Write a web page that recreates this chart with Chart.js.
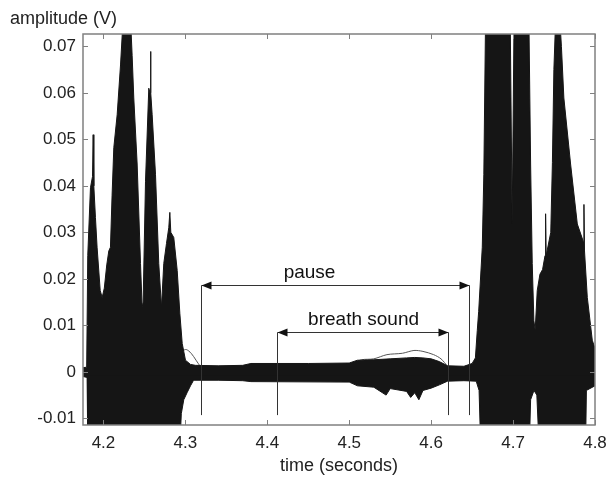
<!DOCTYPE html>
<html>
<head>
<meta charset="utf-8">
<script src="https://cdn.jsdelivr.net/npm/chart.js@4.4.1/dist/chart.umd.min.js"></script>
<style>
  body { margin: 0; background: #fff; }
  canvas { display: block; }
</style>
</head>
<body>
<canvas id="waveChart" width="606" height="477"></canvas>
<script>
// waveform envelope (time in s, amplitude in V)
const upperTimes = [4.175, 4.1795, 4.1808, 4.1841, 4.1866, 4.1874, 4.1882, 4.1902, 4.1922, 4.196, 4.1984, 4.201, 4.204, 4.2065, 4.2085, 4.2105, 4.2126, 4.2167, 4.2208, 4.224, 4.233, 4.235, 4.237, 4.2411, 4.2452, 4.2472, 4.2484, 4.2513, 4.2553, 4.2568, 4.2574, 4.258, 4.2594, 4.2635, 4.2675, 4.2708, 4.2736, 4.2769, 4.2797, 4.281, 4.2822, 4.2858, 4.29, 4.2932, 4.2961, 4.3001, 4.3062, 4.3123, 4.34, 4.37, 4.38, 4.45, 4.5, 4.51, 4.53, 4.55, 4.57, 4.58, 4.59, 4.6, 4.61, 4.62, 4.64, 4.65, 4.654, 4.6563, 4.658, 4.6624, 4.6643, 4.6664, 4.6965, 4.6989, 4.7012, 4.7193, 4.7214, 4.7234, 4.7254, 4.727, 4.7295, 4.7328, 4.736, 4.739, 4.7397, 4.7404, 4.746, 4.748, 4.7498, 4.752, 4.757, 4.759, 4.762, 4.7702, 4.7784, 4.7858, 4.7865, 4.7872, 4.7906, 4.7967, 4.8];
const upperValues = [0.0009, 0.001, 0.025, 0.0396, 0.042, 0.051, 0.04, 0.0332, 0.0268, 0.0175, 0.016, 0.018, 0.023, 0.026, 0.0268, 0.038, 0.0482, 0.0553, 0.066, 0.076, 0.076, 0.068, 0.0589, 0.0447, 0.0233, 0.0139, 0.015, 0.041, 0.061, 0.06, 0.0689, 0.06, 0.0554, 0.0425, 0.0233, 0.0139, 0.0233, 0.0276, 0.031, 0.0343, 0.03, 0.0289, 0.0218, 0.0126, 0.0061, 0.0025, 0.0016, 0.0014, 0.0013, 0.0014, 0.0018, 0.0018, 0.0019, 0.0025, 0.0026, 0.0028, 0.003, 0.0031, 0.003, 0.0028, 0.0022, 0.0013, 0.0012, 0.0018, 0.003, 0.0089, 0.013, 0.0268, 0.0425, 0.076, 0.076, 0.0318, 0.076, 0.076, 0.0447, 0.0233, 0.011, 0.009, 0.0175, 0.021, 0.022, 0.025, 0.034, 0.025, 0.03, 0.045, 0.065, 0.076, 0.076, 0.07, 0.0589, 0.0447, 0.0318, 0.028, 0.036, 0.026, 0.016, 0.0068, 0.005];

const lowerTimes = [4.175, 4.18, 4.1808, 4.2935, 4.295, 4.298, 4.302, 4.3062, 4.31, 4.34, 4.37, 4.38, 4.5, 4.51, 4.53, 4.545, 4.55, 4.57, 4.575, 4.58, 4.585, 4.59, 4.6, 4.61, 4.62, 4.64, 4.655, 4.6585, 4.6603, 4.72, 4.7214, 4.7255, 4.729, 4.7315, 4.7886, 4.7895, 4.8];
const lowerValues = [-0.001, -0.0012, -0.015, -0.015, -0.009, -0.006, -0.0045, -0.003, -0.0018, -0.0018, -0.0019, -0.0021, -0.0022, -0.003, -0.0033, -0.005, -0.0036, -0.0042, -0.0055, -0.0045, -0.006, -0.004, -0.0035, -0.0028, -0.002, -0.0019, -0.002, -0.004, -0.015, -0.015, -0.006, -0.004, -0.005, -0.015, -0.015, -0.004, -0.003];

// thin grey traces showing above the dense part
const loopTimes = [4.296, 4.301, 4.307, 4.313, 4.318];
const loopValues = [0.0045, 0.0048, 0.004, 0.0025, 0.0012];
const bumpTimes = [4.505, 4.515, 4.53, 4.546, 4.565, 4.579, 4.59, 4.603, 4.612, 4.62];
const bumpValues = [0.0018, 0.0026, 0.0028, 0.0037, 0.004, 0.0046, 0.0044, 0.0037, 0.0028, 0.0012];

// axes
const xTickValues = [4.2, 4.3, 4.4, 4.5, 4.6, 4.7, 4.8];
const yTickValues = [-0.01, 0, 0.01, 0.02, 0.03, 0.04, 0.05, 0.06, 0.07];

// annotations: [start, end] of each span, arrow level, label position
const pauseSpan = [4.319, 4.646];
const breathSpan = [4.4116, 4.6209];
const arrowLevels = [0.0186, 0.0086];
const markerBottom = -0.0093;
const spanLabels = ['pause', 'breath sound'];
const labelTimes = [4.4515, 4.5175];
const labelValues = [0.0213, 0.0113];

const toPoints = (ts, vs) => ts.map((t, i) => ({ x: t, y: vs[i] }));

const FONT = "'Liberation Sans', Arial, sans-serif";
const WAVE = '#151515';

const frameAndNotes = {
    id: 'frameAndNotes',
    afterDatasetsDraw(chart) {
        const ctx = chart.ctx;
        const a = chart.chartArea;
        const xs = chart.scales.x, ys = chart.scales.y;
        ctx.save();

        // span markers
        ctx.strokeStyle = '#333';
        ctx.fillStyle = '#111';
        ctx.lineWidth = 1;
        [pauseSpan, breathSpan].forEach((span, k) => {
            const yA = Math.round(ys.getPixelForValue(arrowLevels[k])) + 0.5;
            const yB = ys.getPixelForValue(markerBottom);
            const x1 = Math.round(xs.getPixelForValue(span[0])) + 0.5;
            const x2 = Math.round(xs.getPixelForValue(span[1])) + 0.5;
            ctx.beginPath();
            ctx.moveTo(x1, yA); ctx.lineTo(x1, yB);
            ctx.moveTo(x2, yA); ctx.lineTo(x2, yB);
            ctx.moveTo(x1, yA); ctx.lineTo(x2, yA);
            ctx.stroke();
            // arrow heads
            ctx.beginPath();
            ctx.moveTo(x1, yA); ctx.lineTo(x1 + 10, yA - 4); ctx.lineTo(x1 + 10, yA + 4); ctx.closePath();
            ctx.moveTo(x2, yA); ctx.lineTo(x2 - 10, yA - 4); ctx.lineTo(x2 - 10, yA + 4); ctx.closePath();
            ctx.fill();

            ctx.font = '19px ' + FONT;
            ctx.textAlign = 'center';
            ctx.textBaseline = 'middle';
            ctx.fillText(spanLabels[k], xs.getPixelForValue(labelTimes[k]), ys.getPixelForValue(labelValues[k]));
        });

        // box with inward ticks on every side
        ctx.strokeStyle = '#808080';
        ctx.lineWidth = 1.5;
        ctx.strokeRect(a.left, a.top, a.right - a.left, a.bottom - a.top);
        ctx.lineWidth = 1;
        ctx.beginPath();
        xTickValues.forEach(v => {
            const px = Math.round(xs.getPixelForValue(v)) + 0.5;
            ctx.moveTo(px, a.bottom); ctx.lineTo(px, a.bottom - 5);
            ctx.moveTo(px, a.top); ctx.lineTo(px, a.top + 5);
        });
        yTickValues.forEach(v => {
            const py = Math.round(ys.getPixelForValue(v)) + 0.5;
            ctx.moveTo(a.left, py); ctx.lineTo(a.left + 5, py);
            ctx.moveTo(a.right, py); ctx.lineTo(a.right - 5, py);
        });
        ctx.stroke();

        // y axis title sits above the axis
        ctx.fillStyle = '#222';
        ctx.font = '18px ' + FONT;
        ctx.textAlign = 'left';
        ctx.textBaseline = 'middle';
        ctx.fillText('amplitude (V)', 10, 19);
        ctx.restore();
    }
};

const ctx = document.getElementById('waveChart').getContext('2d');
new Chart(ctx, {
    type: 'line',
    data: {
        datasets: [
            {
                data: toPoints(upperTimes, upperValues),
                borderColor: WAVE, backgroundColor: WAVE,
                borderWidth: 1, pointRadius: 0, tension: 0,
                fill: { value: -0.0008 } // overlap the lower half so no seam shows at 0
            },
            {
                data: toPoints(lowerTimes, lowerValues),
                borderColor: WAVE, backgroundColor: WAVE,
                borderWidth: 1, pointRadius: 0, tension: 0, fill: 'origin'
            },
            {
                data: toPoints(loopTimes, loopValues),
                borderColor: '#555', borderWidth: 1, pointRadius: 0, tension: 0.3, fill: false
            },
            {
                data: toPoints(bumpTimes, bumpValues),
                borderColor: '#555', borderWidth: 1, pointRadius: 0, tension: 0.3, fill: false
            }
        ]
    },
    options: {
        responsive: false,
        animation: false,
        events: [],
        layout: { padding: { top: 34, right: 11, left: 0, bottom: 0 } },
        plugins: { legend: { display: false }, tooltip: { enabled: false } },
        scales: {
            x: {
                type: 'linear',
                min: 4.175,
                max: 4.8,
                afterBuildTicks: s => { s.ticks = xTickValues.map(v => ({ value: v })); },
                afterFit: s => { s.height = 52; s.paddingLeft = 0; s.paddingRight = 0; },
                grid: { display: false, drawTicks: false },
                border: { display: false },
                ticks: {
                    padding: 8,
                    color: '#222',
                    maxRotation: 0,
                    autoSkip: false,
                    font: { family: FONT, size: 17 },
                    callback: v => v.toFixed(1)
                },
                title: {
                    display: true,
                    text: 'time (seconds)',
                    color: '#222',
                    font: { family: FONT, size: 18 },
                    padding: { top: 0, bottom: 0 }
                }
            },
            y: {
                min: -0.01143,
                max: 0.07266,
                afterBuildTicks: s => { s.ticks = yTickValues.map(v => ({ value: v })); },
                afterFit: s => { s.width = 83; },
                grid: { display: false, drawTicks: false },
                border: { display: false },
                ticks: {
                    padding: 7,
                    color: '#222',
                    autoSkip: false,
                    font: { family: FONT, size: 17 },
                    callback: v => (Math.abs(v) < 1e-9 ? '0' : v.toFixed(2))
                }
            }
        }
    },
    plugins: [frameAndNotes]
});
</script>
</body>
</html>
